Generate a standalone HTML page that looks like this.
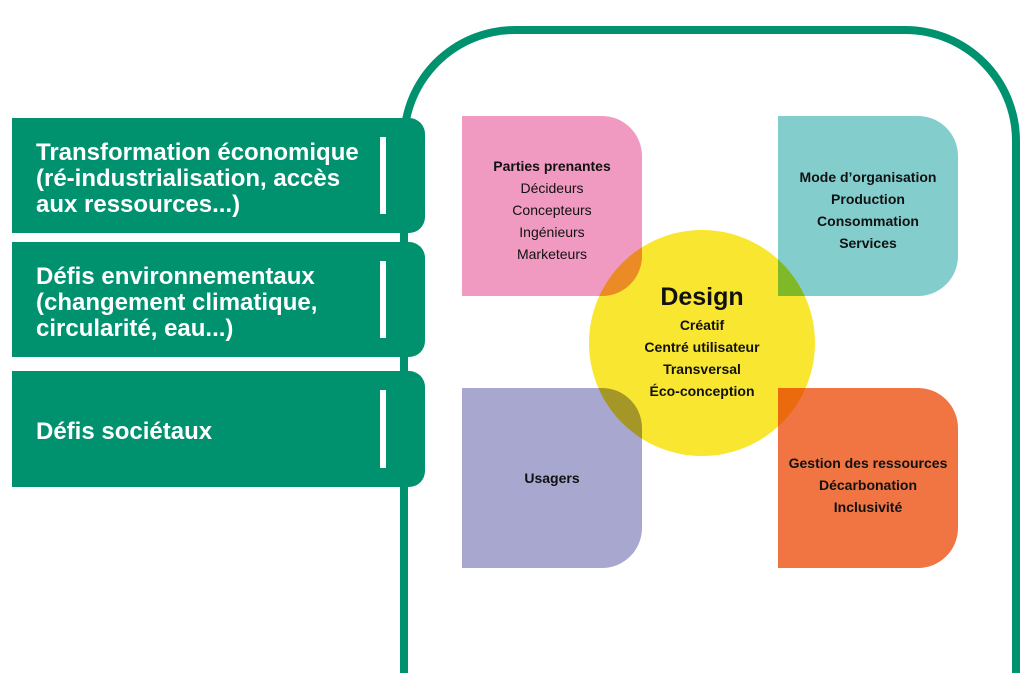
<!DOCTYPE html>
<html><head><meta charset="utf-8"><style>
html,body{margin:0;width:1024px;height:673px;overflow:hidden}
body{background:#fff;font-family:"Liberation Sans","DejaVu Sans",sans-serif}
#w{position:relative;width:1024px;height:673px;overflow:hidden}
.frame{position:absolute;left:400px;top:26px;width:604px;height:639px;border:8px solid #00916e;border-bottom:none;border-radius:115px 115px 0 0}
.lb{position:absolute;left:12px;width:413px;background:#00916e;border-radius:0 16px 16px 0;color:#fff;font-weight:bold;font-size:24px;line-height:26px}
.lb .t{position:absolute;left:24px;white-space:nowrap}
.lb .bar{position:absolute;left:368px;width:6px;top:19px;bottom:19px;background:#fff}
.sq{position:absolute;width:180px;height:180px;border-radius:0 40px 40px 0;color:#111;font-size:14px;line-height:22px;text-align:center}
.circle{position:absolute;left:589px;top:230px;width:226px;height:226px;border-radius:50%;background:#f9e630;mix-blend-mode:multiply}
.ct{position:absolute;left:589px;top:280px;width:226px;text-align:center;font-size:14px;line-height:22px;color:#111;font-weight:bold}
</style></head><body><div id="w">
<div class="frame"></div>
<div class="lb" style="top:118px;height:115px"><div class="t" style="top:22px">Transformation économique<br>(ré-industrialisation, accès<br>aux ressources...)</div><div class="bar"></div></div>
<div class="lb" style="top:242px;height:115px"><div class="t" style="top:22px">Défis environnementaux<br>(changement climatique,<br>circularité, eau...)</div><div class="bar"></div></div>
<div class="lb" style="top:371px;height:116px"><div class="t" style="top:48px">Défis sociétaux</div><div class="bar"></div></div>
<div class="sq" style="left:462px;top:116px;background:#f19ac1"><div style="padding-top:39px"><b>Parties prenantes</b><br>Décideurs<br>Concepteurs<br>Ingénieurs<br>Marketeurs</div></div>
<div class="sq" style="left:778px;top:116px;background:#83cdcd;font-weight:bold"><div style="padding-top:50px">Mode d’organisation<br>Production<br>Consommation<br>Services</div></div>
<div class="sq" style="left:462px;top:388px;background:#a8a7d0;font-weight:bold"><div style="padding-top:79px">Usagers</div></div>
<div class="sq" style="left:778px;top:388px;background:#f07543;font-weight:bold"><div style="padding-top:64px">Gestion des ressources<br>Décarbonation<br>Inclusivité</div></div>
<div class="circle"></div>
<div class="ct"><div style="font-size:25px;line-height:34px">Design</div>Créatif<br>Centré utilisateur<br>Transversal<br>Éco-conception</div>
</div></body></html>
